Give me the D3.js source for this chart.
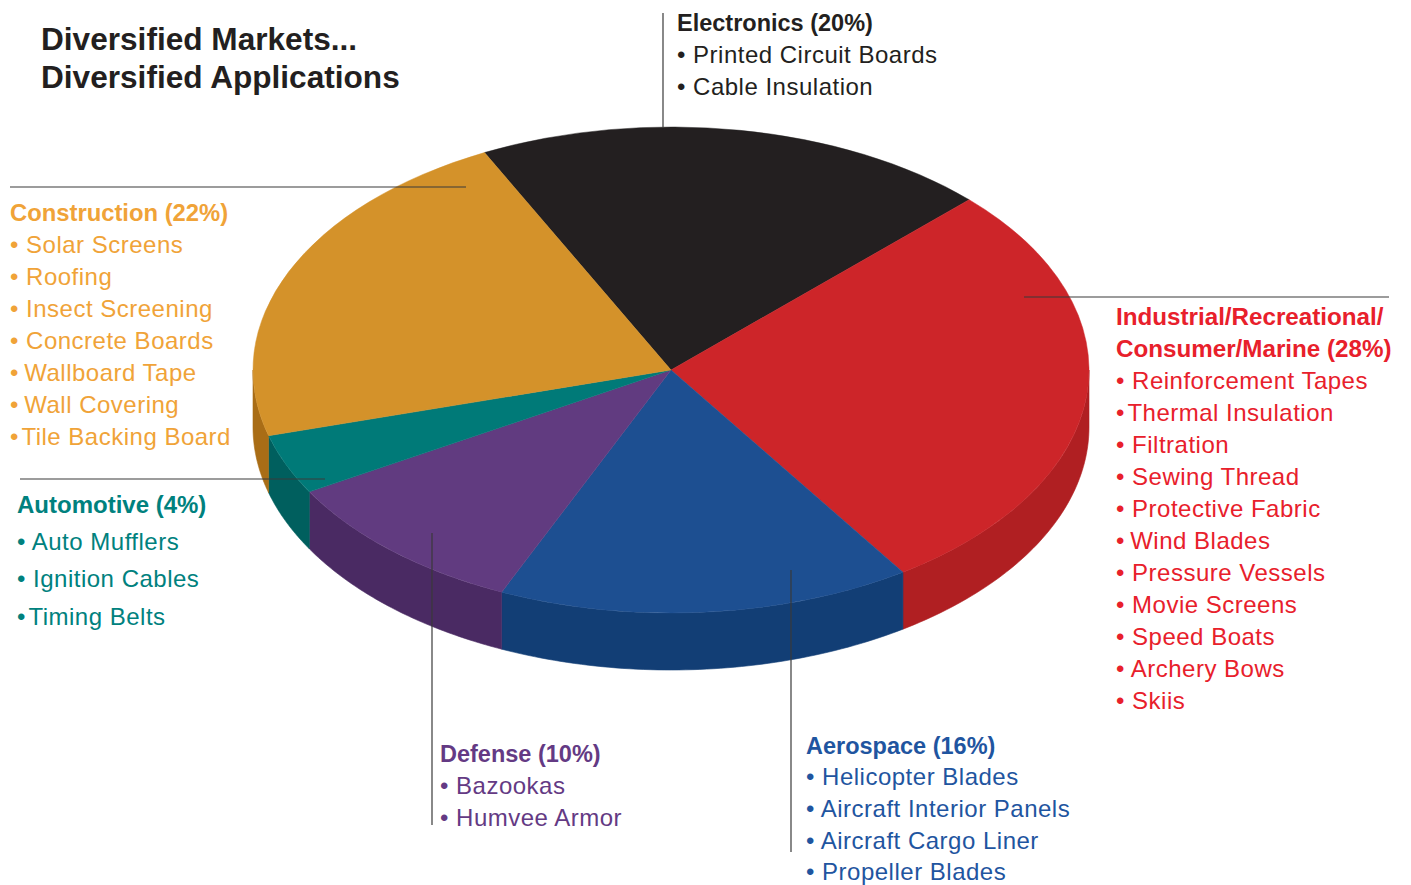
<!DOCTYPE html>
<html><head><meta charset="utf-8">
<script src="https://cdn.jsdelivr.net/npm/d3@7"></script>
<style>body{margin:0;background:#fff} svg{display:block}</style>
</head><body><svg id="c" width="1411" height="885"></svg>
<script>
// ---- data ----
const categories = ["Electronics","Industrial/Recreational/Consumer/Marine","Aerospace","Defense","Automotive","Construction"];
const shares = [20, 28, 16, 10, 4, 22];
const headingLines = [
  ["Electronics (20%)"],
  ["Industrial/Recreational/","Consumer/Marine (28%)"],
  ["Aerospace (16%)"],
  ["Defense (10%)"],
  ["Automotive (4%)"],
  ["Construction (22%)"]
];
const applications = [
  ["• Printed Circuit Boards","• Cable Insulation"],
  ["• Reinforcement Tapes","•\u200AThermal Insulation","• Filtration","• Sewing Thread","• Protective Fabric","•\u2009Wind Blades","• Pressure Vessels","• Movie Screens","• Speed Boats","• Archery Bows","• Skiis"],
  ["• Helicopter Blades","• Aircraft Interior Panels","• Aircraft Cargo Liner","• Propeller Blades"],
  ["• Bazookas","• Humvee Armor"],
  ["• Auto Mufflers","• Ignition Cables","•\u200ATiming Belts"],
  ["• Solar Screens","• Roofing","• Insect Screening","• Concrete Boards","•\u2009Wallboard Tape","•\u2009Wall Covering","•\u200ATile Backing Board"]
];
const titleLines = ["Diversified Markets...","Diversified Applications"];

// ---- styles / layout ----
const topColors  = ["#231f20","#cd2529","#1d4f91","#613b80","#007a78","#d4922a"];
const wallColors = ["#1a1718","#b01f22","#123e75","#4a2a63","#005f5e","#a96d16"];
const textColors = ["#231f20","#e8202b","#1f55a0","#643a84","#00817e","#f0a338"];
const labelPos = [
  {x:677, y:31,  step:32,   hstep:32,  hs:23.5},
  {x:1116,y:325, step:32,   hstep:32,  hs:24.2},
  {x:806, y:753.5, step:31.7, hstep:31.7,hs:23.5},
  {x:440, y:762, step:32,   hstep:32,  hs:23.5},
  {x:17,  y:513, step:37.3, hstep:37,  hs:24},
  {x:10,  y:221, step:32,   hstep:32,  hs:23.8}
];
const leaders = [
  [[663,13],[663,128]],
  [[1024,297],[1389,297]],
  [[791,570],[791,852]],
  [[432,533],[432,825]],
  [[20,479],[325,479]],
  [[10,187],[466,187]]
];

const svg = d3.select("#c");
const cx = 671, cy = 370, rx = 418, ry = 243, depth = 57;
const startAngle = -26.5 * Math.PI / 180;

const pie = d3.pie().sort(null).value(d => d)
  .startAngle(startAngle).endAngle(startAngle + 2 * Math.PI);
const arcs = pie(shares);

// walls
const ptTop = a => [cx + rx * Math.sin(a), cy - ry * Math.cos(a)];
const wallG = svg.append("g");
arcs.forEach((d, i) => {
  const a0 = Math.max(d.startAngle, Math.PI / 2);
  const a1 = Math.min(d.endAngle, 3 * Math.PI / 2);
  if (a1 <= a0) return;
  const n = 60;
  const angs = d3.range(n + 1).map(k => a0 + (a1 - a0) * k / n);
  const top = angs.map(ptTop);
  const bot = angs.slice().reverse().map(a => { const p = ptTop(a); return [p[0], p[1] + depth]; });
  wallG.append("path")
    .attr("d", d3.line()(top.concat(bot)) + "Z")
    .attr("fill", wallColors[i])
    .attr("stroke", wallColors[i]).attr("stroke-width", 0.6);
});

// top faces
const arcGen = d3.arc().innerRadius(0).outerRadius(rx);
svg.append("g")
  .attr("transform", `translate(${cx},${cy}) scale(1,${ry / rx})`)
  .selectAll("path").data(arcs).join("path")
  .attr("d", arcGen)
  .attr("fill", (d, i) => topColors[i])
  .attr("stroke", (d, i) => topColors[i]).attr("stroke-width", 0.6);

// leader lines
svg.append("g").selectAll("line").data(leaders).join("line")
  .attr("x1", d => d[0][0]).attr("y1", d => d[0][1])
  .attr("x2", d => d[1][0]).attr("y2", d => d[1][1])
  .attr("stroke", "#3a3a3a").attr("stroke-width", 1.2);

// title
svg.append("g").selectAll("text").data(titleLines).join("text")
  .attr("x", 41).attr("y", (d, i) => 50 + i * 38)
  .attr("font-family", "Liberation Sans, Arial, sans-serif")
  .attr("font-weight", "bold").attr("font-size", 31.6)
  .attr("fill", "#231f20")
  .text(d => d);

// labels
categories.forEach((c, i) => {
  const p = labelPos[i];
  const g = svg.append("g").attr("fill", textColors[i])
    .attr("font-family", "Liberation Sans, Arial, sans-serif");
  headingLines[i].forEach((h, k) => {
    g.append("text").attr("x", p.x).attr("y", p.y + k * p.hstep)
      .attr("font-weight", "bold").attr("font-size", p.hs).text(h);
  });
  const y0 = p.y + headingLines[i].length * p.hstep;
  applications[i].forEach((t, k) => {
    g.append("text").attr("x", p.x).attr("y", y0 + k * p.step)
      .attr("font-size", 24).attr("letter-spacing", 0.5).text(t);
  });
});
</script></body></html>
